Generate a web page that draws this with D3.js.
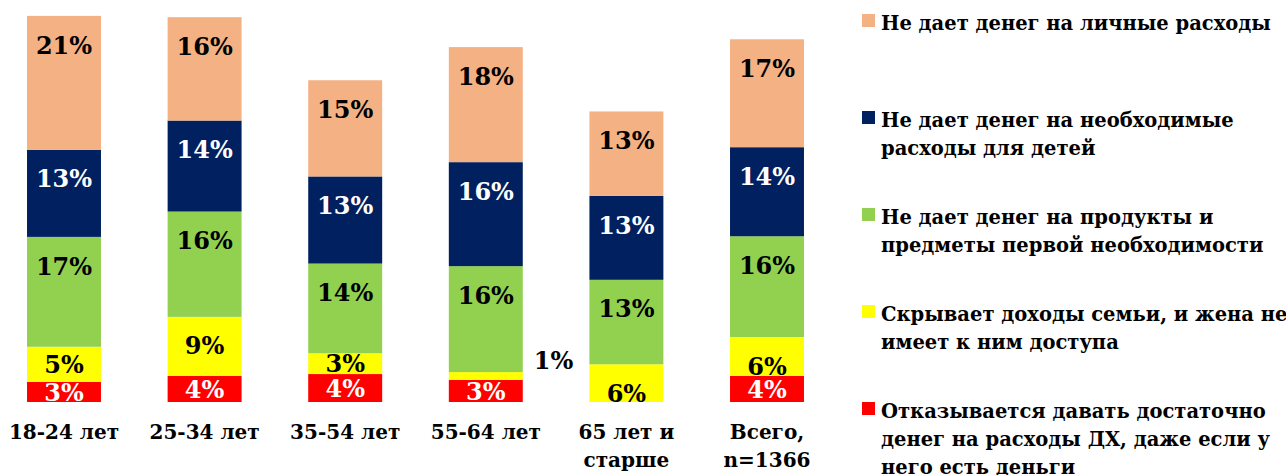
<!DOCTYPE html>
<html>
<head>
<meta charset="utf-8">
<script src="https://cdn.jsdelivr.net/npm/d3@7"></script>
<style>
  body { margin: 0; background: #fff; }
  text { font-family: "DejaVu Serif", serif; font-weight: bold; }
</style>
</head>
<body>
<svg id="chart"></svg>
<script>
// categories (line breaks as in the picture)
var categories = ["18-24 лет", "25-34 лет", "35-54 лет", "55-64 лет", "65 лет и\nстарше", "Всего,\nn=1366"]

// series, bottom of the stack to top (percent)
var refuse   = [3.1, 4.0, 4.3, 3.4, 0, 4.0]
var hides    = [5.4, 9.1, 3.2, 1.2, 5.8, 6.0]
var food     = [16.9, 16.2, 13.8, 16.3, 13.0, 15.5]
var children = [13.4, 14.0, 13.4, 16.0, 12.9, 13.7]
var personal = [20.6, 15.9, 14.8, 17.7, 13.0, 16.6]

var seriesNames = [
  "Отказывается давать достаточно\nденег на расходы ДХ, даже если у\nнего есть деньги",
  "Скрывает доходы семьи, и жена не\nимеет к ним доступа",
  "Не дает денег на продукты и\nпредметы первой необходимости",
  "Не дает денег на необходимые\nрасходы для детей",
  "Не дает денег на личные расходы"
]
var seriesValues = [refuse, hides, food, children, personal]
var colors = ["#FF0000", "#FFFF00", "#92D050", "#002060", "#F4B183"]
var labelColors = ["#fff", "#000", "#000", "#fff", "#000"]

var width = 1286, height = 475

var svg = d3.select('#chart')
    .attr('width', width)
    .attr('height', height)

// build rows for d3.stack
var keys = d3.range(seriesNames.length)
var rows = categories.map(function(c, i) {
    var row = { cat: c }
    keys.forEach(function(k) { row[k] = seriesValues[k][i] })
    return row
})
var stacked = d3.stack().keys(keys)(rows)

var x = d3.scaleBand()
    .domain(categories)
    .range([-6.3, 837.3])
    .paddingInner(0.474)
    .paddingOuter(0.237)

var y = d3.scaleLinear()
    .domain([0, 60])
    .range([402, 12])

svg.append('clipPath').attr('id', 'plotClip')
    .append('rect')
    .attr('x', 0).attr('y', 0)
    .attr('width', 850).attr('height', y(0))

var plot = svg.append('g').attr('clip-path', 'url(#plotClip)')

var layers = plot.selectAll('g.layer')
    .data(stacked)
    .enter()
    .append('g')
    .attr('class', 'layer')
    .attr('fill', function(d) { return colors[d.key] })

layers.selectAll('rect')
    .data(function(d) { return d })
    .enter()
    .append('rect')
    .attr('x', function(d) { return x(d.data.cat) })
    .attr('width', x.bandwidth())
    .attr('y', function(d) { return y(d[1]) })
    .attr('height', function(d) { return y(d[0]) - y(d[1]) })

// data labels: near the top of tall segments, centered in short ones,
// outside to the right when the segment is too thin
layers.each(function(layer) {
    var k = layer.key
    d3.select(this).selectAll('text')
        .data(layer.filter(function(d) { return d[1] - d[0] > 0 }))
        .enter()
        .append('text')
        .attr('font-size', 24)
        .text(function(d) { return Math.round(d[1] - d[0]) + '%' })
        .each(function(d) {
            var top = y(d[1]), h = y(d[0]) - y(d[1])
            var t = d3.select(this)
            if (h < 15) {
                t.attr('x', x(d.data.cat) + x.bandwidth() + 11)
                    .attr('y', top + h / 2 - 16)
                    .attr('dy', '0.36em')
                    .attr('text-anchor', 'start')
                    .attr('fill', '#000')
            } else {
                t.attr('x', x(d.data.cat) + x.bandwidth() / 2)
                    .attr('y', h >= 37 ? top + 29 : top + h / 2)
                    .attr('dy', '0.36em')
                    .attr('text-anchor', 'middle')
                    .attr('fill', labelColors[k])
            }
        })
})

// category axis, no line and no ticks
var xAxis = svg.append('g')
    .attr('transform', 'translate(0,' + y(0) + ')')
    .call(d3.axisBottom(x).tickSize(0).tickPadding(0))
xAxis.select('.domain').remove()
xAxis.selectAll('.tick text').each(function(d) {
    var t = d3.select(this)
    t.text(null)
        .attr('font-size', 20)
        .attr('font-family', '"DejaVu Serif", serif')
        .attr('fill', '#000')
        .attr('y', 0)
        .attr('dy', null)
    d.split('\n').forEach(function(line, i) {
        t.append('tspan')
            .attr('x', 0)
            .attr('y', 37 + i * 28)
            .text(line)
    })
})

// legend, top item is the top of the stack
var legendOrder = keys.slice().reverse()
var legend = svg.append('g')
    .selectAll('g')
    .data(legendOrder)
    .enter()
    .append('g')
    .attr('transform', function(d, i) { return 'translate(862,' + (30 + i * 97) + ')' })

legend.append('rect')
    .attr('x', 0)
    .attr('y', -16)
    .attr('width', 13)
    .attr('height', 13)
    .attr('fill', function(d) { return colors[d] })

legend.append('text')
    .attr('font-size', 19.5)
    .attr('fill', '#000')
    .each(function(d) {
        var t = d3.select(this)
        seriesNames[d].split('\n').forEach(function(line, i) {
            t.append('tspan')
                .attr('x', 19)
                .attr('y', i * 28)
                .text(line)
        })
    })
</script>
</body>
</html>
